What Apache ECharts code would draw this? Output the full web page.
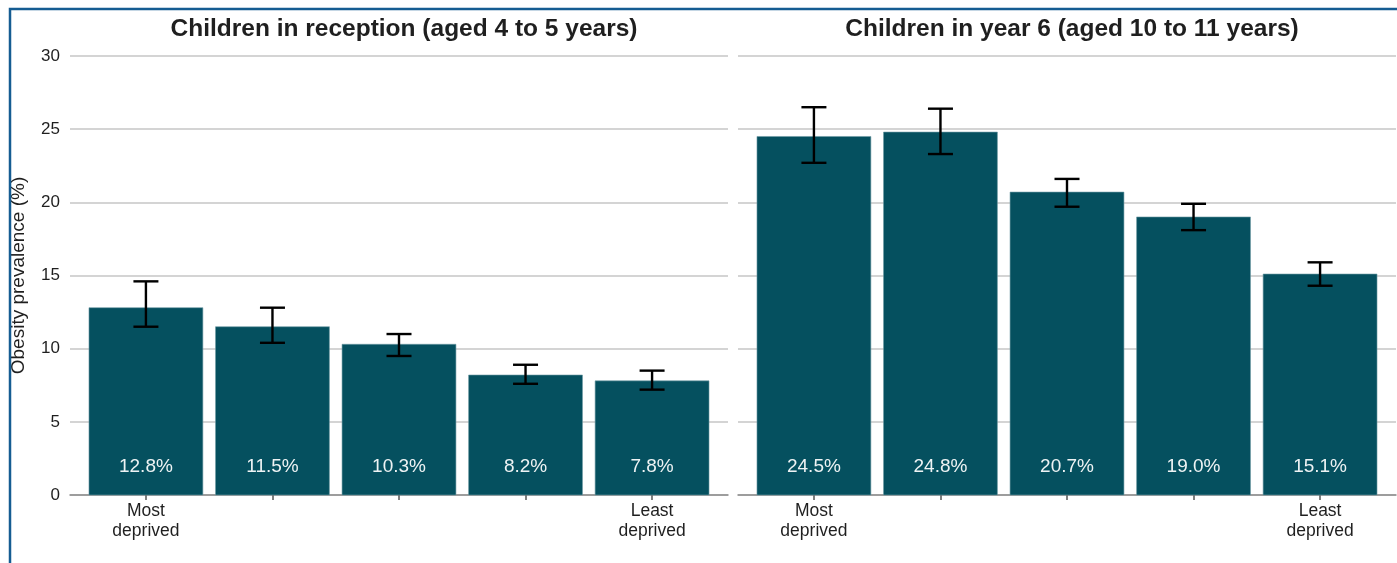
<!DOCTYPE html>
<html>
<head>
<meta charset="utf-8">
<title>Obesity prevalence by deprivation</title>
<script src="https://cdn.jsdelivr.net/npm/echarts@6/dist/echarts.min.js"></script>
<style>
  html, body { margin: 0; padding: 0; background: #ffffff; }
  #chart { width: 1397px; height: 563px; }
</style>
</head>
<body>
<div id="chart"></div>
<script>
// Deprivation quintiles, most deprived (1) to least deprived (5)
const quintiles = [1, 2, 3, 4, 5];
const quintileLabels = { 1: 'Most\ndeprived', 5: 'Least\ndeprived' };

// Reception (aged 4 to 5): prevalence and 95% confidence limits
const receptionValues = [12.8, 11.5, 10.3, 8.2, 7.8];
const receptionLower  = [11.5, 10.4, 9.5, 7.6, 7.2];
const receptionUpper  = [14.6, 12.8, 11.0, 8.9, 8.5];

// Year 6 (aged 10 to 11): prevalence and 95% confidence limits
const year6Values = [24.5, 24.8, 20.7, 19.0, 15.1];
const year6Lower  = [22.7, 23.3, 19.7, 18.1, 14.3];
const year6Upper  = [26.5, 26.4, 21.6, 19.9, 15.9];

const yTicks = [0, 5, 10, 15, 20, 25, 30];

const panelTitles = [
  'Children in reception (aged 4 to 5 years)',
  'Children in year 6 (aged 10 to 11 years)'
];

const FONT = '"Liberation Sans", Arial, Helvetica, sans-serif';
const BAR_COLOR = '#05505f';
const TEXT_COLOR = '#1f1f1f';

function rows(values, lower, upper) {
  return quintiles.map((q, i) => [q, values[i], lower[i], upper[i]]);
}

// Bar, confidence-interval whisker and in-bar percentage label
function renderBar(params, api) {
  const x = api.value(0);
  const v = api.value(1);
  const lo = api.value(2);
  const hi = api.value(3);
  const base = api.coord([x, 0]);
  const top = api.coord([x, v]);
  const pLo = api.coord([x, lo]);
  const pHi = api.coord([x, hi]);
  const bandW = api.size([0.9, 0])[0];
  const capW = 25;
  const line = { stroke: '#000000', lineWidth: 2.4 };
  return {
    type: 'group',
    children: [
      {
        type: 'rect',
        shape: { x: base[0] - bandW / 2, y: top[1], width: bandW, height: base[1] - top[1] },
        style: { fill: BAR_COLOR, stroke: '#6f9aa5', lineWidth: 0.6 }
      },
      {
        type: 'line',
        shape: { x1: pLo[0], y1: pLo[1], x2: pHi[0], y2: pHi[1] },
        style: line
      },
      {
        type: 'line',
        shape: { x1: pHi[0] - capW / 2, y1: pHi[1], x2: pHi[0] + capW / 2, y2: pHi[1] },
        style: line
      },
      {
        type: 'line',
        shape: { x1: pLo[0] - capW / 2, y1: pLo[1], x2: pLo[0] + capW / 2, y2: pLo[1] },
        style: line
      },
      {
        type: 'text',
        style: {
          x: base[0], y: base[1] - 28,
          text: v.toFixed(1) + '%',
          fill: '#eef3f4',
          font: '19px ' + FONT,
          align: 'center', verticalAlign: 'middle'
        }
      }
    ]
  };
}

function xAxisFor(gridIndex) {
  return {
    type: 'value',
    gridIndex: gridIndex,
    min: 0.4,
    max: 5.6,
    splitLine: { show: false },
    axisLine: { show: true, lineStyle: { color: '#8a8a8a', width: 1.5 } },
    axisTick: {
      show: true, customValues: quintiles, length: 5,
      lineStyle: { color: '#555555', width: 1.5 }
    },
    axisLabel: {
      customValues: [1, 5],
      formatter: (val) => quintileLabels[val] || '',
      color: TEXT_COLOR, fontFamily: FONT, fontSize: 17.5, lineHeight: 20, margin: 6
    }
  };
}

function yAxisFor(gridIndex, showLabels) {
  return {
    type: 'value',
    gridIndex: gridIndex,
    min: yTicks[0],
    max: yTicks[yTicks.length - 1],
    interval: 5,
    name: showLabels ? 'Obesity prevalence (%)' : '',
    nameLocation: 'middle',
    nameRotate: 90,
    nameGap: 42,
    nameTextStyle: { color: TEXT_COLOR, fontFamily: FONT, fontSize: 19 },
    axisLine: { show: false },
    axisTick: { show: false },
    axisLabel: {
      show: showLabels, color: TEXT_COLOR, fontFamily: FONT, fontSize: 17, margin: 10
    },
    splitLine: { show: true, lineStyle: { color: '#c6c6c6', width: 1.5 } }
  };
}

const chart = echarts.init(document.getElementById('chart'), null, { renderer: 'canvas' });

chart.setOption({
  animation: false,
  backgroundColor: '#ffffff',
  title: [
    {
      text: panelTitles[0], left: 399, top: 12, textAlign: 'center',
      textStyle: { fontFamily: FONT, fontSize: 24.5, fontWeight: 'bold', color: TEXT_COLOR }
    },
    {
      text: panelTitles[1], left: 1067, top: 12, textAlign: 'center',
      textStyle: { fontFamily: FONT, fontSize: 24.5, fontWeight: 'bold', color: TEXT_COLOR }
    }
  ],
  grid: [
    { left: 70, right: 669, top: 56, bottom: 68 },
    { left: 738, right: 1, top: 56, bottom: 68 }
  ],
  xAxis: [xAxisFor(0), xAxisFor(1)],
  yAxis: [yAxisFor(0, true), yAxisFor(1, false)],
  series: [
    {
      type: 'custom', xAxisIndex: 0, yAxisIndex: 0,
      renderItem: renderBar,
      encode: { x: 0, y: [1, 2, 3] },
      data: rows(receptionValues, receptionLower, receptionUpper)
    },
    {
      type: 'custom', xAxisIndex: 1, yAxisIndex: 1,
      renderItem: renderBar,
      encode: { x: 0, y: [1, 2, 3] },
      data: rows(year6Values, year6Lower, year6Upper)
    }
  ],
  graphic: [
    // frame along the top and left edges
    {
      type: 'polyline', silent: true, z: 100,
      shape: { points: [[10, 563], [10, 9], [1397, 9]] },
      style: { stroke: '#155c92', lineWidth: 2.5, fill: null }
    }
  ]
});
</script>
</body>
</html>
